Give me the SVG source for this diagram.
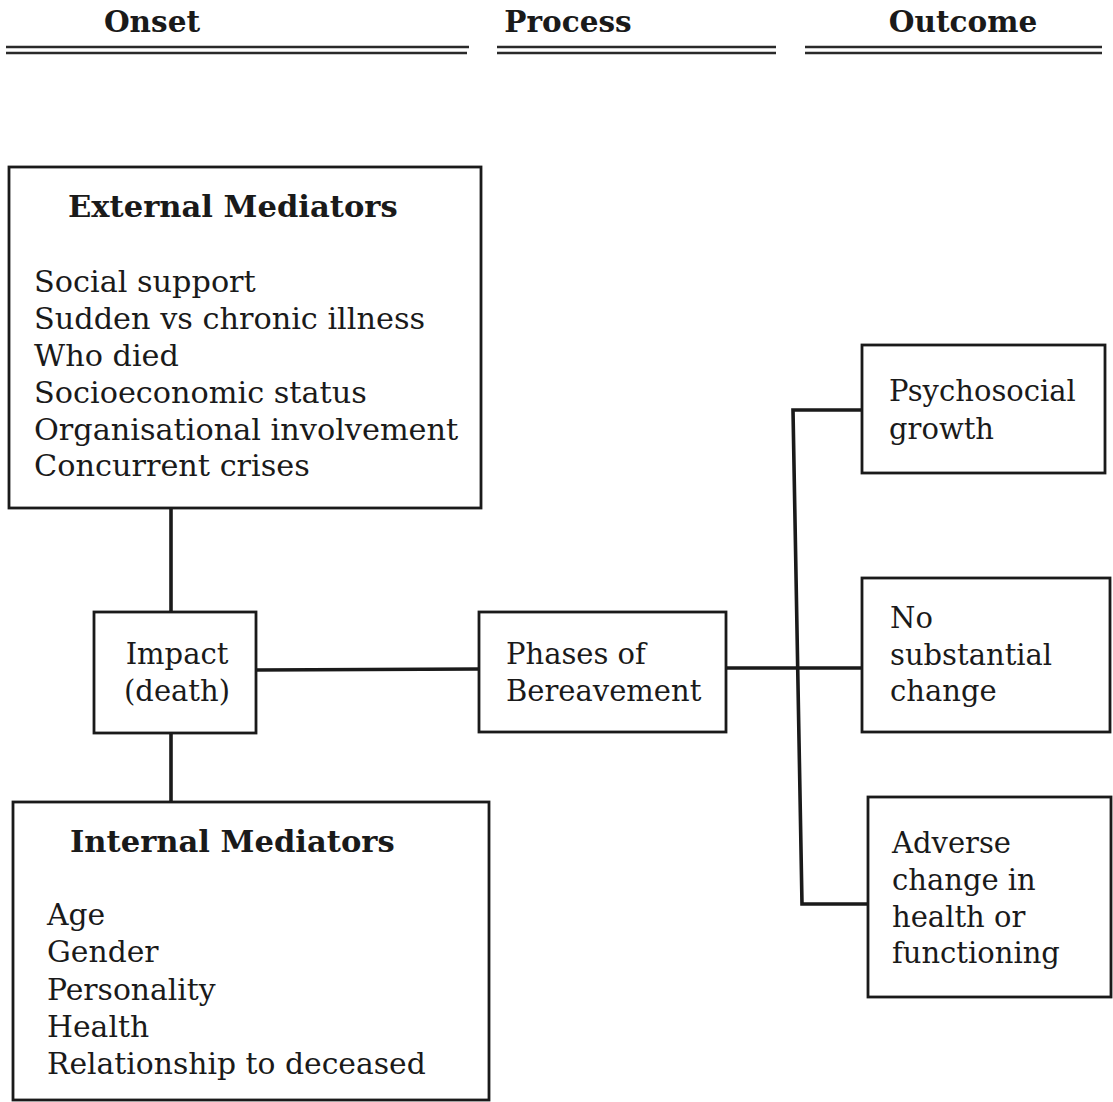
<svg xmlns="http://www.w3.org/2000/svg" width="1113" height="1102" viewBox="0 0 1113 1102">
<style>
  .box{fill:none;stroke:#1a1a1a;stroke-width:2.8}
  .con{fill:none;stroke:#1a1a1a;stroke-width:3.6}
  .rule{stroke:#2a2a2a;stroke-width:2.5}
  text{font-family:"DejaVu Serif","Liberation Serif",serif;fill:#1a1a1a}
  .hd{font-size:29.5px;font-weight:bold}
  .ttl{font-size:30.6px;font-weight:bold}
  .it{font-size:29px}
  .ex{font-size:30.3px}
  .in{font-size:29.8px}
</style>
<rect width="1113" height="1102" fill="#ffffff"/>
<g id="headers">
  <text class="hd" x="152" y="32" text-anchor="middle">Onset</text>
  <text class="hd" x="568" y="32" text-anchor="middle">Process</text>
  <text class="hd" x="963" y="32" text-anchor="middle">Outcome</text>
  <line class="rule" x1="6" y1="47" x2="469" y2="47"/>
  <line class="rule" x1="6" y1="53" x2="467" y2="53"/>
  <line class="rule" x1="497" y1="47" x2="776" y2="47"/>
  <line class="rule" x1="497" y1="53" x2="776" y2="53"/>
  <line class="rule" x1="805" y1="47" x2="1102" y2="47"/>
  <line class="rule" x1="805" y1="53" x2="1102" y2="53"/>
</g>
<g id="connectors">
  <line class="con" x1="171" y1="508" x2="171" y2="612"/>
  <line class="con" x1="171" y1="733" x2="171" y2="802"/>
  <line class="con" x1="256" y1="670" x2="479" y2="669"/>
  <line class="con" x1="726" y1="668" x2="862" y2="668"/>
  <polyline class="con" points="862,410 793,410 802,904 868,904"/>
</g>
<g id="external">
  <rect class="box" x="9" y="167" width="472" height="341"/>
  <text class="ttl" x="68" y="217">External Mediators</text>
  <text class="ex" x="34" y="292">Social support</text>
  <text class="ex" x="34" y="329">Sudden vs chronic illness</text>
  <text class="ex" x="34" y="366">Who died</text>
  <text class="ex" x="34" y="403">Socioeconomic status</text>
  <text class="ex" x="34" y="440">Organisational involvement</text>
  <text class="ex" x="34" y="476">Concurrent crises</text>
</g>
<g id="impact">
  <rect class="box" x="94" y="612" width="162" height="121"/>
  <text class="it" x="177" y="664" text-anchor="middle">Impact</text>
  <text class="it" x="177" y="701" text-anchor="middle">(death)</text>
</g>
<g id="internal">
  <rect class="box" x="13" y="802" width="476" height="298"/>
  <text class="ttl" x="70" y="852">Internal Mediators</text>
  <text class="in" x="47" y="925">Age</text>
  <text class="in" x="47" y="962">Gender</text>
  <text class="in" x="47" y="1000">Personality</text>
  <text class="in" x="47" y="1037">Health</text>
  <text class="in" x="47" y="1074">Relationship to deceased</text>
</g>
<g id="phases">
  <rect class="box" x="479" y="612" width="247" height="120"/>
  <text class="it" x="506" y="664">Phases of</text>
  <text class="it" x="506" y="701">Bereavement</text>
</g>
<g id="psychosocial">
  <rect class="box" x="862" y="345" width="243" height="128"/>
  <text class="it" x="889" y="401">Psychosocial</text>
  <text class="it" x="889" y="439">growth</text>
</g>
<g id="nochange">
  <rect class="box" x="862" y="578" width="248" height="154"/>
  <text class="it" x="890" y="628">No</text>
  <text class="it" x="890" y="665">substantial</text>
  <text class="it" x="890" y="701">change</text>
</g>
<g id="adverse">
  <rect class="box" x="868" y="797" width="243" height="200"/>
  <text class="it" x="892" y="853">Adverse</text>
  <text class="it" x="892" y="890">change in</text>
  <text class="it" x="892" y="927">health or</text>
  <text class="it" x="892" y="963">functioning</text>
</g>
</svg>
